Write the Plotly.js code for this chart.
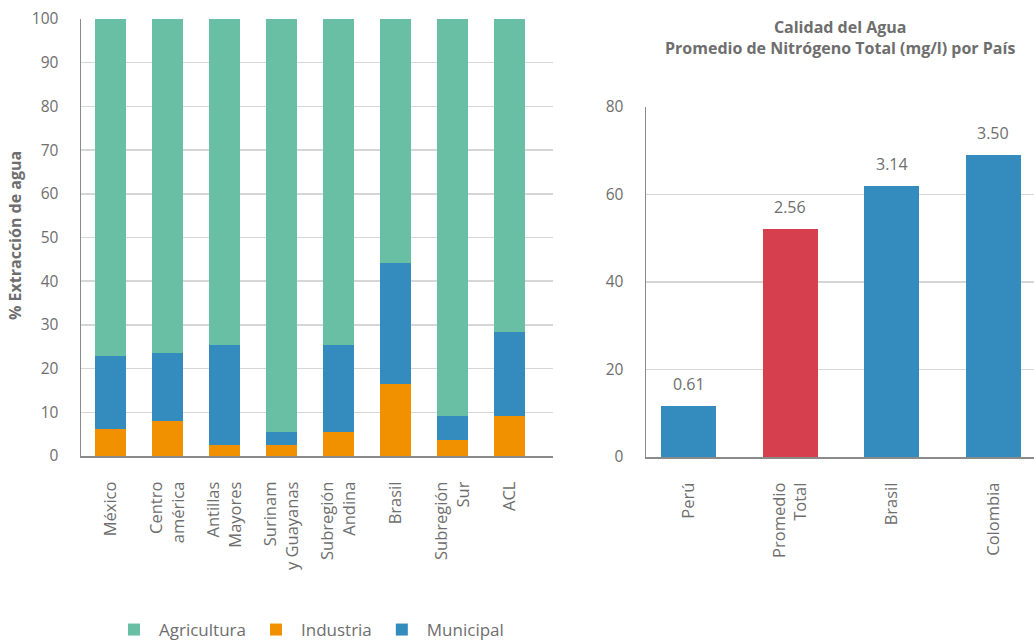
<!DOCTYPE html>
<html>
<head>
<meta charset="utf-8">
<script src="https://cdn.plot.ly/plotly-3.0.1.min.js"></script>
<style>html,body{margin:0;padding:0;background:#fff;}#chart{width:1034px;height:641px;}</style>
</head>
<body>
<div id="chart"></div>
<script>
// Left chart: water extraction by sector (%)
const regions = ["México", "Centro<br>américa", "Antillas<br>Mayores", "Surinam<br>y Guayanas", "Subregión<br>Andina", "Brasil", "Subregión<br>Sur", "ACL"];
const industria = [6.2, 8.0, 2.5, 2.5, 5.5, 16.5, 3.7, 9.2];
const municipal = [16.7, 15.6, 22.9, 3.0, 19.9, 27.7, 5.5, 19.2];
const agricultura = [77.1, 76.4, 74.6, 94.5, 74.6, 55.8, 90.8, 71.6];

// Right chart: total nitrogen
const countries = ["Perú", "Promedio<br>Total", "Brasil", "Colombia"];
const barHeights = [11.7, 52.1, 61.9, 69.0];
const nitrogenLabels = ["0.61", "2.56", "3.14", "3.50"];

const FONT = "Open Sans, Lato, sans-serif";
const GRAY = "#6e6e6e";
const C_AGR = "#69BFA3", C_IND = "#F29100", C_MUN = "#348BBD", C_RED = "#D6404E";

const traces = [
  {type: "bar", name: "Industria", x: regions, y: industria, marker: {color: C_IND}, legendrank: 2, xaxis: "x", yaxis: "y", width: 0.545, hoverinfo: "skip"},
  {type: "bar", name: "Municipal", x: regions, y: municipal, marker: {color: C_MUN}, legendrank: 3, xaxis: "x", yaxis: "y", width: 0.545, hoverinfo: "skip"},
  {type: "bar", name: "Agricultura", x: regions, y: agricultura, marker: {color: C_AGR}, legendrank: 1, xaxis: "x", yaxis: "y", width: 0.545, hoverinfo: "skip"},
  {type: "bar", name: "Nitrógeno", x: countries, y: barHeights, showlegend: false,
   marker: {color: [C_MUN, C_RED, C_MUN, C_MUN]}, xaxis: "x2", yaxis: "y2", width: 0.54, hoverinfo: "skip"}
];

const annotations = countries.map((c, i) => ({
  x: c, y: barHeights[i], xref: "x2", yref: "y2", text: nitrogenLabels[i],
  showarrow: false, yanchor: "bottom", yshift: 9, font: {family: FONT, size: 16, color: GRAY}
}));
annotations.push({
  xref: "paper", yref: "paper", x: 840/1034, y: (641-37)/641, xanchor: "center", yanchor: "middle",
  text: "<b>Calidad del Agua</b><br><b>Promedio de Nitrógeno Total (mg/l) por País</b>", showarrow: false,
  font: {family: FONT, size: 16, color: GRAY}
});
annotations.push({
  xref: "paper", yref: "paper", x: 15/1034, y: (641-236)/641, xanchor: "center", yanchor: "middle",
  text: "<b>% Extracción de agua</b>", textangle: -90, showarrow: false,
  font: {family: FONT, size: 16, color: GRAY}
});

const tickFont = {family: FONT, size: 15.5, color: GRAY};
const xTickFont = {family: FONT, size: 16.5, color: GRAY};
const layout = {
  width: 1034, height: 641,
  margin: {l: 0, r: 0, t: 0, b: 0, autoexpand: false},
  paper_bgcolor: "#fff", plot_bgcolor: "#fff",
  barmode: "stack",
  showlegend: true,
  legend: {orientation: "h", xref: "paper", yref: "paper", x: 309/1034, y: 11/641, xanchor: "center", yanchor: "middle",
           font: {family: FONT, size: 17, color: GRAY}, itemwidth: 40, traceorder: "normal"},
  xaxis: {domain: [81/1034, 553/1034], range: [-0.52, 7.76], type: "category", tickangle: -90, tickfont: xTickFont,
          showline: true, linecolor: "#8a8a8a", linewidth: 2, showgrid: false, ticks: "", ticklabelstandoff: 17, automargin: false, fixedrange: true},
  yaxis: {domain: [185/641, 622/641], range: [0, 100], dtick: 10, tickfont: tickFont, showline: true, linecolor: "#8a8a8a", linewidth: 1.5,
          gridcolor: "#d6d6d6", gridwidth: 1.5, zeroline: false, ticks: "", ticklabelstandoff: 18, automargin: false, fixedrange: true},
  xaxis2: {domain: [646/1034, 1], range: [-0.42, 3.4], type: "category", tickangle: -90, tickfont: xTickFont, anchor: "y2",
           showline: true, linecolor: "#8a8a8a", linewidth: 2, showgrid: false, ticks: "", ticklabelstandoff: 17, automargin: false, fixedrange: true},
  yaxis2: {domain: [184/641, 534/641], range: [0, 80], dtick: 20, tickfont: tickFont, anchor: "x2", showline: true, linecolor: "#8a8a8a", linewidth: 1.5,
           gridcolor: "#d6d6d6", gridwidth: 1.5, zeroline: false, ticks: "", ticklabelstandoff: 18, automargin: false, fixedrange: true},
  annotations: annotations
};

Plotly.newPlot("chart", traces, layout, {staticPlot: true, displayModeBar: false});
</script>
</body>
</html>
